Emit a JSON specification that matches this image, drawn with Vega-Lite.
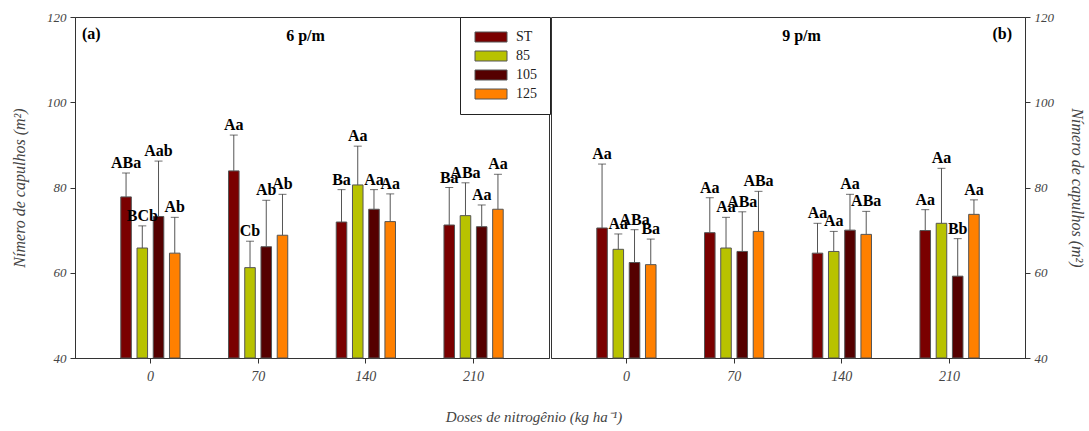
{
  "$schema": "https://vega.github.io/schema/vega-lite/v6.json",
  "padding": {"left": 11, "top": 10, "right": 5, "bottom": 5},
  "config": {
    "font": "Liberation Serif",
    "view": {"stroke": "#333", "strokeWidth": 1},
    "concat": {"spacing": 0},
    "axis": {"grid": false, "domainColor": "#333", "tickColor": "#333", "labelFont": "Liberation Serif", "labelFontStyle": "italic", "labelColor": "#444", "titleFont": "Liberation Serif", "titleFontStyle": "italic", "titleFontWeight": "normal", "titleColor": "#444"}
  },
  "title": {"text": "Doses de nitrogênio (kg ha⁻¹)", "orient": "bottom", "anchor": "middle", "dx": -14, "fontStyle": "italic", "fontWeight": "normal", "fontSize": 15, "color": "#444", "offset": 26, "font": "Liberation Serif"},
  "data": {"values": [
    {"panel": "a", "dose": "0", "cult": "ST", "value": 77.8, "err": 83.4, "label": "ABa"},
    {"panel": "a", "dose": "0", "cult": "85", "value": 65.8, "err": 71.0, "label": "BCb"},
    {"panel": "a", "dose": "0", "cult": "105", "value": 73.2, "err": 86.2, "label": "Aab"},
    {"panel": "a", "dose": "0", "cult": "125", "value": 64.6, "err": 73.0, "label": "Ab"},
    {"panel": "a", "dose": "70", "cult": "ST", "value": 83.9, "err": 92.3, "label": "Aa"},
    {"panel": "a", "dose": "70", "cult": "85", "value": 61.2, "err": 67.4, "label": "Cb"},
    {"panel": "a", "dose": "70", "cult": "105", "value": 66.1, "err": 77.0, "label": "Ab"},
    {"panel": "a", "dose": "70", "cult": "125", "value": 68.8, "err": 78.4, "label": "Ab"},
    {"panel": "a", "dose": "140", "cult": "ST", "value": 71.9, "err": 79.5, "label": "Ba"},
    {"panel": "a", "dose": "140", "cult": "85", "value": 80.6, "err": 89.7, "label": "Aa"},
    {"panel": "a", "dose": "140", "cult": "105", "value": 74.9, "err": 79.5, "label": "Aa"},
    {"panel": "a", "dose": "140", "cult": "125", "value": 72.0, "err": 78.5, "label": "Aa"},
    {"panel": "a", "dose": "210", "cult": "ST", "value": 71.2, "err": 80.0, "label": "Ba"},
    {"panel": "a", "dose": "210", "cult": "85", "value": 73.4, "err": 81.1, "label": "ABa"},
    {"panel": "a", "dose": "210", "cult": "105", "value": 70.8, "err": 75.9, "label": "Aa"},
    {"panel": "a", "dose": "210", "cult": "125", "value": 74.9, "err": 83.1, "label": "Aa"},
    {"panel": "b", "dose": "0", "cult": "ST", "value": 70.5, "err": 85.5, "label": "Aa"},
    {"panel": "b", "dose": "0", "cult": "85", "value": 65.5, "err": 69.1, "label": "Aa"},
    {"panel": "b", "dose": "0", "cult": "105", "value": 62.4, "err": 70.1, "label": "ABa"},
    {"panel": "b", "dose": "0", "cult": "125", "value": 61.9, "err": 67.9, "label": "Ba"},
    {"panel": "b", "dose": "70", "cult": "ST", "value": 69.4, "err": 77.6, "label": "Aa"},
    {"panel": "b", "dose": "70", "cult": "85", "value": 65.8, "err": 73.0, "label": "Aa"},
    {"panel": "b", "dose": "70", "cult": "105", "value": 65.0, "err": 74.3, "label": "ABa"},
    {"panel": "b", "dose": "70", "cult": "125", "value": 69.7, "err": 79.1, "label": "ABa"},
    {"panel": "b", "dose": "140", "cult": "ST", "value": 64.6, "err": 71.6, "label": "Aa"},
    {"panel": "b", "dose": "140", "cult": "85", "value": 65.0, "err": 69.7, "label": "Aa"},
    {"panel": "b", "dose": "140", "cult": "105", "value": 70.0, "err": 78.4, "label": "Aa"},
    {"panel": "b", "dose": "140", "cult": "125", "value": 69.0, "err": 74.4, "label": "ABa"},
    {"panel": "b", "dose": "210", "cult": "ST", "value": 69.9, "err": 74.8, "label": "Aa"},
    {"panel": "b", "dose": "210", "cult": "85", "value": 71.6, "err": 84.5, "label": "Aa"},
    {"panel": "b", "dose": "210", "cult": "105", "value": 59.2, "err": 68.0, "label": "Bb"},
    {"panel": "b", "dose": "210", "cult": "125", "value": 73.7, "err": 77.1, "label": "Aa"}
  ]},
  "hconcat": [
    {
      "width": 474, "height": 341,
      "transform": [{"filter": "datum.panel == 'a'"}],
      "title": {"text": "(a)", "anchor": "start", "frame": "group", "offset": -44, "dx": 7, "fontSize": 16, "fontWeight": "bold", "baseline": "alphabetic", "color": "black"},
      "encoding": {
        "x": {"field": "dose", "type": "nominal", "sort": ["0", "70", "140", "210"], "scale": {"paddingInner": 0.45, "paddingOuter": 0.425},
          "axis": {"title": "6 p/m", "labelAngle": 0, "tickSize": 5, "labelPadding": 6, "labelFontSize": 14, "titleX": 230, "titleY": -318, "titleFontStyle": "normal", "titleFontWeight": "bold", "titleFontSize": 16, "titleColor": "black", "titleBaseline": "alphabetic", "titleAlign": "center"}},
        "xOffset": {"field": "cult", "type": "nominal", "sort": ["ST", "85", "105", "125"], "scale": {"paddingInner": 0.35, "paddingOuter": 0}}
      },
      "layer": [
        {"mark": {"type": "bar", "stroke": "#555", "strokeWidth": 1},
         "encoding": {
           "y": {"field": "value", "type": "quantitative", "scale": {"domain": [40, 120]},
             "axis": {"title": "Nímero de capulhos (m²)", "values": [40, 60, 80, 100, 120], "tickSize": 5, "labelPadding": 4, "labelFontSize": 13, "titleFontSize": 16, "titlePadding": 19, "format": "d"}},
           "y2": {"datum": 40},
           "color": {"field": "cult", "type": "nominal", "sort": ["ST", "85", "105", "125"],
             "scale": {"domain": ["ST", "85", "105", "125"], "range": ["#7a0000", "#b8c200", "#550000", "#ff8000"]},
             "legend": {"orient": "none", "legendX": 385, "legendY": 0, "title": null, "symbolType": "M-3.2,-1H3.2V1H-3.2Z", "symbolSize": 100, "symbolStrokeColor": "#555", "symbolStrokeWidth": 1, "symbolOpacity": 1, "symbolOffset": 11, "labelOffset": 18, "labelFontSize": 14, "labelFont": "Liberation Serif", "labelColor": "#222", "padding": 13, "rowPadding": 5, "strokeColor": "#222", "fillColor": "white"}}
         }},
        {"mark": {"type": "rule", "color": "#555"},
         "encoding": {"y": {"field": "value", "type": "quantitative"}, "y2": {"field": "err"}}},
        {"mark": {"type": "tick", "color": "#333", "size": 8, "thickness": 1},
         "encoding": {"y": {"field": "err", "type": "quantitative"}}},
        {"mark": {"type": "text", "fontWeight": "bold", "fontSize": 16, "baseline": "alphabetic", "dy": -5, "color": "black"},
         "encoding": {"y": {"field": "err", "type": "quantitative"}, "text": {"field": "label"}}}
      ]
    },
    {
      "width": 474, "height": 341,
      "transform": [{"filter": "datum.panel == 'b'"}],
      "title": {"text": "(b)", "anchor": "end", "frame": "group", "offset": -44, "dx": -13, "fontSize": 16, "fontWeight": "bold", "baseline": "alphabetic", "color": "black"},
      "encoding": {
        "x": {"field": "dose", "type": "nominal", "sort": ["0", "70", "140", "210"], "scale": {"paddingInner": 0.45, "paddingOuter": 0.425},
          "axis": {"title": "9 p/m", "labelAngle": 0, "tickSize": 5, "labelPadding": 6, "labelFontSize": 14, "titleX": 250, "titleY": -318, "titleFontStyle": "normal", "titleFontWeight": "bold", "titleFontSize": 16, "titleColor": "black", "titleBaseline": "alphabetic", "titleAlign": "center"}},
        "xOffset": {"field": "cult", "type": "nominal", "sort": ["ST", "85", "105", "125"], "scale": {"paddingInner": 0.35, "paddingOuter": 0}}
      },
      "layer": [
        {"mark": {"type": "bar", "stroke": "#555", "strokeWidth": 1},
         "encoding": {
           "y": {"field": "value", "type": "quantitative", "scale": {"domain": [40, 120]},
             "axis": {"orient": "right", "title": "Nímero de capulhos (m²)", "values": [40, 60, 80, 100, 120], "tickSize": 5, "labelPadding": 4, "labelFontSize": 13, "titleFontSize": 16, "titlePadding": 15, "format": "d"}},
           "y2": {"datum": 40},
           "color": {"field": "cult", "type": "nominal", "sort": ["ST", "85", "105", "125"],
             "scale": {"domain": ["ST", "85", "105", "125"], "range": ["#7a0000", "#b8c200", "#550000", "#ff8000"]},
             "legend": {"orient": "none", "legendX": 385, "legendY": 0, "title": null, "symbolType": "M-3.2,-1H3.2V1H-3.2Z", "symbolSize": 100, "symbolStrokeColor": "#555", "symbolStrokeWidth": 1, "symbolOpacity": 1, "symbolOffset": 11, "labelOffset": 18, "labelFontSize": 14, "labelFont": "Liberation Serif", "labelColor": "#222", "padding": 13, "rowPadding": 5, "strokeColor": "#222", "fillColor": "white"}}
         }},
        {"mark": {"type": "rule", "color": "#555"},
         "encoding": {"y": {"field": "value", "type": "quantitative"}, "y2": {"field": "err"}}},
        {"mark": {"type": "tick", "color": "#333", "size": 8, "thickness": 1},
         "encoding": {"y": {"field": "err", "type": "quantitative"}}},
        {"mark": {"type": "text", "fontWeight": "bold", "fontSize": 16, "baseline": "alphabetic", "dy": -5, "color": "black"},
         "encoding": {"y": {"field": "err", "type": "quantitative"}, "text": {"field": "label"}}}
      ]
    }
  ]
}
